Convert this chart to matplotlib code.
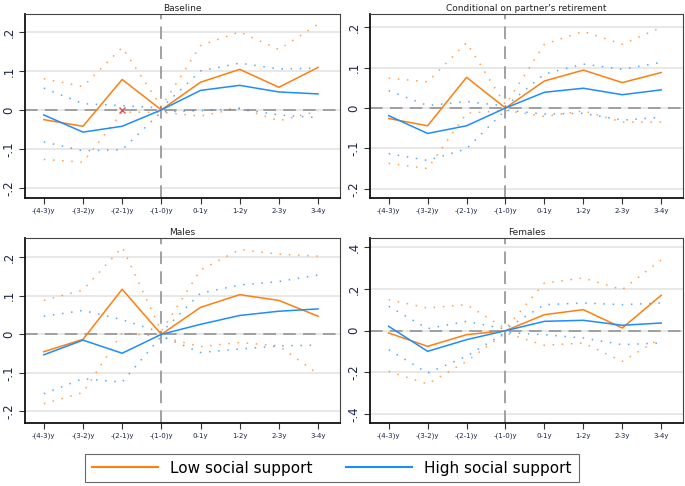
import matplotlib
matplotlib.use('Agg')
import matplotlib.pyplot as plt
from matplotlib.lines import Line2D

periods = ['-(4-3)y', '-(3-2)y', '-(2-1)y', '-(1-0)y', '0-1y', '1-2y', '2-3y', '3-4y']

# Baseline
base_low = [-0.025, -0.042, 0.078, 0.0, 0.071, 0.104, 0.058, 0.109]
base_low_hi = [0.080, 0.060, 0.160, 0.008, 0.165, 0.200, 0.155, 0.220]
base_low_lo = [-0.127, -0.134, -0.006, -0.006, -0.016, 0.005, -0.028, -0.003]
base_high = [-0.013, -0.057, -0.042, 0.0, 0.050, 0.063, 0.046, 0.041]
base_high_hi = [0.056, 0.016, 0.011, 0.005, 0.100, 0.120, 0.105, 0.107]
base_high_lo = [-0.082, -0.105, -0.102, -0.005, -0.002, 0.003, -0.013, -0.020]

# Conditional on partner's retirement
cond_low = [-0.026, -0.044, 0.076, 0.0, 0.067, 0.094, 0.063, 0.088]
cond_low_hi = [0.074, 0.065, 0.162, 0.008, 0.158, 0.190, 0.158, 0.200]
cond_low_lo = [-0.137, -0.150, -0.013, -0.006, -0.021, -0.007, -0.035, -0.035]
cond_high = [-0.019, -0.063, -0.044, 0.0, 0.039, 0.049, 0.033, 0.045]
cond_high_hi = [0.043, 0.006, 0.016, 0.005, 0.084, 0.109, 0.096, 0.113]
cond_high_lo = [-0.113, -0.130, -0.101, -0.005, -0.015, -0.013, -0.030, -0.023]

# Males
male_low = [-0.045, -0.013, 0.117, 0.0, 0.070, 0.103, 0.088, 0.047]
male_low_hi = [0.088, 0.115, 0.226, 0.008, 0.167, 0.220, 0.208, 0.203]
male_low_lo = [-0.180, -0.151, 0.004, -0.006, -0.032, -0.021, -0.030, -0.103]
male_high = [-0.053, -0.015, -0.049, 0.0, 0.026, 0.049, 0.060, 0.066]
male_high_hi = [0.047, 0.062, 0.038, 0.005, 0.107, 0.128, 0.137, 0.154]
male_high_lo = [-0.154, -0.115, -0.124, -0.005, -0.047, -0.038, -0.030, -0.028]

# Females
fem_low = [-0.011, -0.075, -0.019, 0.0, 0.077, 0.101, 0.013, 0.170]
fem_low_hi = [0.149, 0.109, 0.125, 0.010, 0.229, 0.253, 0.197, 0.340]
fem_low_lo = [-0.195, -0.256, -0.147, -0.010, -0.070, -0.059, -0.147, -0.035]
fem_high = [0.021, -0.099, -0.043, 0.0, 0.045, 0.050, 0.026, 0.037]
fem_high_hi = [0.117, 0.010, 0.045, 0.008, 0.125, 0.133, 0.125, 0.133]
fem_high_lo = [-0.091, -0.203, -0.123, -0.008, -0.019, -0.035, -0.067, -0.059]

orange = '#ff7f0e'
blue = '#1e8cff'
txt = '#1c2546'

fig = plt.figure(figsize=(6.85, 4.86), dpi=100)

panels = [
    ('Baseline', [25/685, 1-198/486, 315/685, 184/486],
     base_low, base_low_hi, base_low_lo, base_high, base_high_hi, base_high_lo,
     (-0.226, 0.246), [-0.2, -0.1, 0, 0.1, 0.2], ['-.2', '-.1', '0', '.1', '.2']),
    ("Conditional on partner's retirement", [370/685, 1-198/486, 313/685, 184/486],
     cond_low, cond_low_hi, cond_low_lo, cond_high, cond_high_hi, cond_high_lo,
     (-0.223, 0.233), [-0.2, -0.1, 0, 0.1, 0.2], ['-.2', '-.1', '0', '.1', '.2']),
    ('Males', [25/685, 1-423/486, 315/685, 185/486],
     male_low, male_low_hi, male_low_lo, male_high, male_high_hi, male_high_lo,
     (-0.23, 0.25), [-0.2, -0.1, 0, 0.1, 0.2], ['-.2', '-.1', '0', '.1', '.2']),
    ('Females', [370/685, 1-423/486, 313/685, 185/486],
     fem_low, fem_low_hi, fem_low_lo, fem_high, fem_high_hi, fem_high_lo,
     (-0.443, 0.445), [-0.4, -0.2, 0, 0.2, 0.4], ['-.4', '-.2', '0', '.2', '.4']),
]

x = list(range(len(periods)))
dots = (0, (1, 5))

for title, pos, lo, lo_hi, lo_lo, hi, hi_hi, hi_lo, ylim, yt, ytl in panels:
    ax = fig.add_axes(pos)
    for yv in yt:
        ax.axhline(yv, color='#e4e4e4', lw=1.2, zorder=0)
    ax.axhline(0, color='#9a9a9a', lw=1.3, dashes=(7, 4), zorder=1)
    ax.axvline(3, color='#9a9a9a', lw=1.3, dashes=(7, 4), zorder=1)

    ax.plot(x, lo_hi, color=orange, lw=1.1, linestyle=dots, alpha=0.75)
    ax.plot(x, lo_lo, color=orange, lw=1.1, linestyle=dots, alpha=0.75)
    ax.plot(x, hi_hi, color=blue, lw=1.1, linestyle=dots, alpha=0.75)
    ax.plot(x, hi_lo, color=blue, lw=1.1, linestyle=dots, alpha=0.75)
    ax.plot(x, lo, color=orange, lw=1.1)
    ax.plot(x, hi, color=blue, lw=1.1)

    if title == 'Baseline':
        ax.plot([2], [0], marker='x', color='#e8504a', ms=4, mew=1)

    ax.set_xlim(-0.48, 7.56)
    ax.set_ylim(*ylim)
    ax.set_xticks(x)
    ax.set_xticklabels(periods, fontsize=5, color=txt)
    ax.set_yticks(yt)
    ax.set_yticklabels(ytl, fontsize=8.5, color=txt, rotation=90, va='center')
    ax.tick_params(axis='both', direction='out', length=4, width=0.8, color='#333333', pad=3)
    ax.set_title(title, fontsize=6.5, color='#222222', pad=2)

    for s in ['top', 'right']:
        ax.spines[s].set_color('#444444')
        ax.spines[s].set_linewidth(0.8)
    for s in ['left', 'bottom']:
        ax.spines[s].set_color('#111111')
        ax.spines[s].set_linewidth(1.3)

handles = [Line2D([], [], color=orange, lw=1.5), Line2D([], [], color=blue, lw=1.5)]
leg = fig.legend(handles, ['Low social support', 'High social support'],
                 loc='center', bbox_to_anchor=(332/685, 1-468/486), ncol=2,
                 fontsize=11, frameon=True, fancybox=False, handlelength=4.3,
                 columnspacing=2.2, handletextpad=0.8, borderpad=0.45,
                 borderaxespad=0)
leg.get_frame().set_edgecolor('#444444')
leg.get_frame().set_linewidth(0.8)

fig.savefig('out.png', dpi=100)
